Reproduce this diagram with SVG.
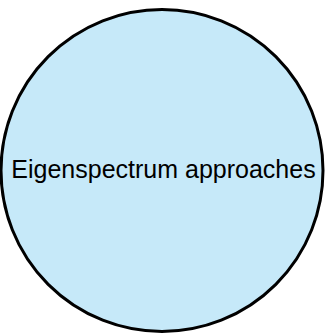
<svg xmlns="http://www.w3.org/2000/svg" width="325" height="335" viewBox="0 0 325 335">
<style>
.node circle{fill:#c6e9f9;stroke:#000;stroke-width:3}
.node text{font-family:"Liberation Sans",Arial,sans-serif;font-size:25px;fill:#000;text-anchor:middle}
</style>
<rect width="325" height="335" fill="#fff"/>
<g id="connectors"></g>
<g id="node-eigenspectrum" class="node">
<circle cx="162" cy="170.5" r="161"/>
<text x="163.5" y="178">Eigenspectrum approaches</text>
</g>
</svg>
